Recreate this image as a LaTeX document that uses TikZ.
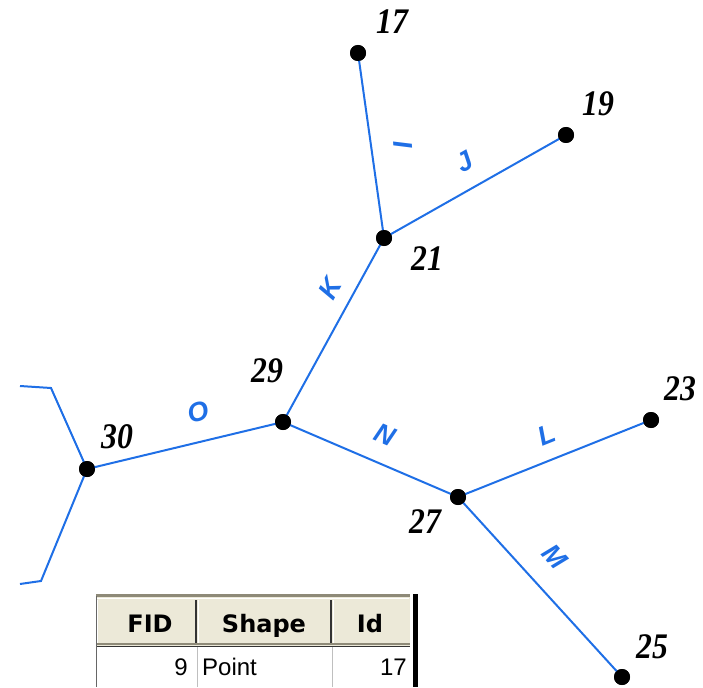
\documentclass[tikz,border=0pt]{standalone}
\usepackage{fontspec}
\setmainfont{Liberation Serif}
\newfontfamily\lsans{Liberation Sans}
\newfontfamily\dsans{DejaVu Sans}
\definecolor{edgeblue}{HTML}{1F6FE6}
\definecolor{hdrbg}{HTML}{ECE9D8}
\definecolor{hdrline}{HTML}{8E8A78}
\tikzset{
  vtx/.style={circle,fill=black,inner sep=0pt,minimum size=16pt},
  edge/.style={draw=edgeblue,line width=2pt},
  num/.style={font=\fontsize{36}{36}\selectfont\bfseries\itshape,xscale=0.88,transform shape,inner sep=0pt},
  elabel/.style={font=\lsans\bfseries\itshape\fontsize{27}{27}\selectfont,text=edgeblue,inner sep=0pt},
  hdr/.style={font=\dsans\bfseries\fontsize{24}{24}\selectfont,inner sep=0pt},
  cell/.style={font=\lsans\fontsize{24}{24}\selectfont,inner sep=0pt}
}
\begin{document}
\begin{tikzpicture}[x=1pt,y=-1pt]
\useasboundingbox (0,0) rectangle (703,687);
% vertices
\node[vtx] (v17) at (358,53) {};
\node[vtx] (v19) at (566,135) {};
\node[vtx] (v21) at (384,238) {};
\node[vtx] (v29) at (283,422) {};
\node[vtx] (v30) at (87,469) {};
\node[vtx] (v27) at (458,497) {};
\node[vtx] (v23) at (651,420) {};
\node[vtx] (v25) at (622,677) {};
\coordinate (t1) at (51,388);
\coordinate (t0) at (20,386);
\coordinate (b1) at (41,581);
\coordinate (b0) at (20,584);
% edges
\draw[edge] (v17.center) -- (v21.center);
\draw[edge] (v21.center) -- (v19.center);
\draw[edge] (v29.center) -- (v21.center);
\draw[edge] (v30.center) -- (v29.center);
\draw[edge] (v29.center) -- (v27.center);
\draw[edge] (v27.center) -- (v23.center);
\draw[edge] (v27.center) -- (v25.center);
\draw[edge] (v30.center) -- (t1) -- (t0);
\draw[edge] (v30.center) -- (b1) -- (b0);
% redraw vertices on top
\foreach \v in {v17,v19,v21,v29,v30,v27,v23,v25}
  \fill (\v) circle (8pt);
% vertex numbers
\node[num] (n17) at (392,22) {17};
\node[num] (n19) at (598,104) {19};
\node[num] (n21) at (427,259) {21};
\node[num] (n29) at (267,371) {29};
\node[num] (n30) at (117,437) {30};
\node[num] (n27) at (425,522) {27};
\node[num] (n23) at (680,389) {23};
\node[num] (n25) at (652,647) {25};
% edge labels
\node[elabel,rotate=-86] (lI) at (403,145) {I};
\node[elabel,rotate=29.5] (lJ) at (465,162) {J};
\node[elabel,rotate=61] (lK) at (330,288) {K};
\node[elabel,rotate=13.5] (lO) at (198,412) {O};
\node[elabel,rotate=-23] (lN) at (385,435) {N};
\node[elabel,rotate=21.8] (lL) at (547,435) {L};
\node[elabel,rotate=-47.7] (lM) at (555,557) {M};
% table
\fill[hdrbg] (96,596) rectangle (410,646);
\draw[hdrline,line width=3pt] (96,595.5) -- (410,595.5);
\draw[white,line width=1.2pt] (97,598.5) -- (409,598.5);
\draw[hdrline,line width=1.5pt] (96,644) -- (410,644);
\draw[black!80,line width=1.2pt] (96,646.5) -- (410,646.5);
\foreach \x in {196,331}{
  \draw[black!80,line width=1.8pt] (\x,600) -- (\x,643);
  \draw[white,line width=1.2pt] (\x+2.5,600) -- (\x+2.5,643);
}
\draw[white,line width=1.2pt] (97.5,600) -- (97.5,643);
\draw[black!60,line width=1pt] (96,596) -- (96,687);
\draw[black!25,line width=1pt] (197,647) -- (197,687);
\draw[black!25,line width=1pt] (332,647) -- (332,687);
\draw[black,line width=5pt] (415.5,594) -- (415.5,687);
\node[hdr,anchor=base] (hFID) at (150,632) {FID};
\node[hdr,anchor=base] (hShape) at (264,632) {Shape};
\node[hdr,anchor=base] (hId) at (370,632) {Id};
\node[cell,anchor=base east] (c9) at (188,675) {9};
\node[cell,anchor=base west] (cP) at (202,675) {Point};
\node[cell,anchor=base east] (c17) at (407,675) {17};
\end{tikzpicture}
\end{document}
